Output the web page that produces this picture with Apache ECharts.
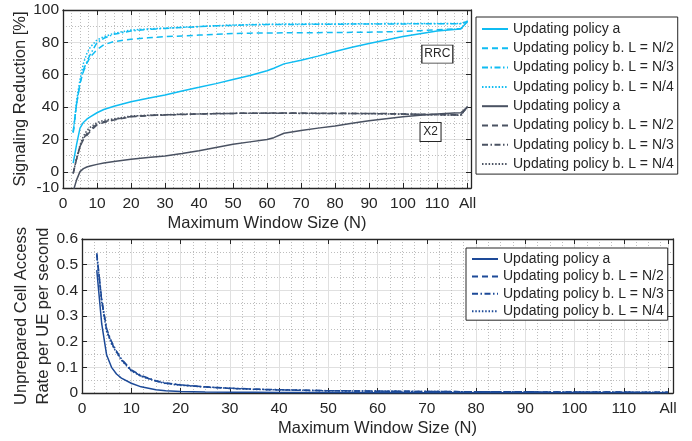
<!DOCTYPE html>
<html lang="en">
<head>
<meta charset="UTF-8">
<title>Signaling reduction / unprepared cell access</title>
<script src="https://cdn.jsdelivr.net/npm/echarts@6/dist/echarts.min.js"></script>
<style>
  html, body { margin: 0; padding: 0; background: #fff; }
  #chart { width: 692px; height: 441px; }
</style>
</head>
<body>
<div id="chart"></div>
<script>
// window sizes N, 119 is the "All" position
const topN = [3,4,5,6,7,8,10,12,15,20,25,30,35,40,45,50,55,60,62,65,70,75,80,85,90,95,100,105,110,115,117,119];
const rrcA  = [5.4,17,27,30.5,32.5,34,36.5,38.5,40.5,43.3,45.5,47.5,50,52.2,54.5,57,59.5,62.5,64,66.7,69,71.5,74.3,77,79.3,81.5,83.6,85.3,87,88,88.3,93];
const rrcL2 = [24.4,42,54.7,62,67,71,75.5,78.5,80.5,81.9,82.8,83.5,84,84.5,85,85.5,85.7,85.8,85.8,85.9,86,86,86.1,86.2,86.3,86.5,86.8,87.2,87.8,88.3,88.5,93];
const rrcL3 = [24.4,42,54.7,63,68,72.5,79.8,82.5,85,87,88,88.6,89.2,89.7,90.2,90.5,90.8,91,91,91.1,91.1,91.2,91.2,91.3,91.3,91.4,91.4,91.5,91.5,91.5,91.5,93];
const rrcL4 = [24.4,44,57,67,73,77,81.5,83.5,85.6,87.6,88.3,88.8,89.3,89.8,90.3,90.7,91,91.2,91.2,91.3,91.3,91.4,91.4,91.5,91.5,91.6,91.6,91.6,91.7,91.7,91.7,93];
const x2A  = [-12,-5,0.1,2,3,3.6,4.6,5.4,6.4,7.7,8.8,9.8,11.3,13,15,17,18.5,20,21.1,23.8,25.5,27,28.3,30,31.5,32.8,34,35,35.8,36.4,36.5,40.2];
const x2L2 = [-1,8,15.5,20,22.5,25,29,30.5,32,34,34.7,35.1,35.4,35.7,35.9,36.1,36.2,36.3,36.3,36.3,36.3,36.2,36.2,36.1,36,36,35.8,35.6,35.4,35.2,35.2,40.2];
const x2L3 = [-1,8,15.5,20.5,23.5,26,29.5,31,32.3,34.2,34.8,35.2,35.5,35.8,36,36.1,36.2,36.2,36.2,36.2,36.2,36.1,36.1,36,36,35.9,35.7,35.5,35.3,35.1,35.1,40.2];
const x2L4 = [-1,8.5,16.5,22,25.5,27.5,30.5,31.8,32.8,34.5,35,35.3,35.6,35.8,36,36.1,36.2,36.2,36.2,36.2,36.1,36.1,36,36,35.9,35.8,35.6,35.4,35.2,35,35,40.2];

const bottomN = [3,4,5,6,7,8,10,12,15,17,20,25,30,35,40,50,60,70,80,90,100,110,119];
const ucaA  = [0.479,0.27,0.148,0.1,0.074,0.058,0.038,0.024,0.013,0.009,0.006,0.004,0.003,0.0025,0.002,0.0015,0.0012,0.001,0.0009,0.0008,0.0007,0.0006,0.0005];
const ucaL2 = [0.54,0.36,0.245,0.195,0.161,0.13,0.088,0.066,0.047,0.038,0.031,0.024,0.018,0.015,0.012,0.009,0.007,0.006,0.005,0.0045,0.004,0.0035,0.003];
const ucaL3 = [0.545,0.365,0.25,0.2,0.163,0.133,0.09,0.068,0.048,0.039,0.032,0.024,0.019,0.015,0.013,0.009,0.0075,0.006,0.005,0.0045,0.004,0.0035,0.003];
const ucaL4 = [0.535,0.355,0.24,0.19,0.158,0.128,0.086,0.065,0.046,0.037,0.03,0.023,0.018,0.014,0.012,0.0085,0.007,0.0055,0.005,0.0042,0.0038,0.0033,0.003];

// tick labels
const xTicks = [0,10,20,30,40,50,60,70,80,90,100,110,119];
const xTickLabels = ['0','10','20','30','40','50','60','70','80','90','100','110','All'];
const topYTicks = [-10,0,20,40,60,80,100];
const bottomYTicks = [0,0.1,0.2,0.3,0.4,0.5,0.6];

// labelled boxes inside the top plot
const annotations = [
  { text: 'RRC', n: 110.1, value: 72.8 },
  { text: 'X2', n: 108.1, value: 24.6 }
];

const legendLabels = {
  'rrcA': 'Updating policy a', 'rrcL2': 'Updating policy b. L = N/2',
  'rrcL3': 'Updating policy b. L = N/3', 'rrcL4': 'Updating policy b. L = N/4',
  'x2A': 'Updating policy a', 'x2L2': 'Updating policy b. L = N/2',
  'x2L3': 'Updating policy b. L = N/3', 'x2L4': 'Updating policy b. L = N/4',
  'ucaA': 'Updating policy a', 'ucaL2': 'Updating policy b. L = N/2',
  'ucaL3': 'Updating policy b. L = N/3', 'ucaL4': 'Updating policy b. L = N/4'
};

const ink = '#262626';
const font = '"Liberation Sans", Arial, Helvetica, sans-serif';
const dashes = { solid: 'solid', dash: [6, 4], dashDot: [6, 2.5, 1.5, 2.5], dot: [1.5, 1.8] };
const majorGrid = { show: true, lineStyle: { color: '#e0e0e0', width: 1 } };

// minor grid positions (every 2.5 on x)
const xMinor = [];
for (let v = 2.5; v < 120; v += 2.5) if (v % 10 !== 0) xMinor.push(v);

function xAxes(gridIndex, name) {
  const base = { type: 'value', gridIndex: gridIndex, min: 0, max: 120 };
  return [
    Object.assign({}, base, {
      position: 'bottom',
      axisLine: { onZero: false, lineStyle: { color: ink, width: 1.3 } },
      axisTick: { inside: true, length: 5, customValues: xTicks, lineStyle: { color: ink } },
      axisLabel: { customValues: xTicks, color: ink, fontSize: 15.5, margin: 8, fontFamily: font,
        formatter: v => xTickLabels[xTicks.indexOf(v)] },
      splitLine: Object.assign({ customValues: xTicks }, majorGrid),
      name: name, nameLocation: 'middle', nameGap: 27, nameMoveOverlap: false,
      nameTextStyle: { color: ink, fontSize: 16.5, fontFamily: font }
    }),
    Object.assign({}, base, {
      position: 'top',
      axisLine: { onZero: false, lineStyle: { color: ink, width: 1.3 } },
      axisTick: { inside: true, length: 5, customValues: xTicks, lineStyle: { color: ink } },
      axisLabel: { show: false },
      splitLine: { show: false }
    }),
    Object.assign({}, base, {
      position: 'bottom', interval: 2.5,
      axisLine: { show: false, onZero: false },
      axisTick: { show: false, customValues: xMinor },
      axisLabel: { show: false },
      splitLine: { show: true, customValues: xMinor, lineStyle: { color: '#bdbdbd', type: [1, 2], width: 1 } }
    })
  ];
}

function yAxes(gridIndex, min, max, ticks, minor, name, nameGap, lineHeight) {
  const base = { type: 'value', gridIndex: gridIndex, min: min, max: max };
  return [
    Object.assign({}, base, {
      position: 'left',
      axisLine: { onZero: false, lineStyle: { color: ink, width: 1.3 } },
      axisTick: { inside: true, length: 5, customValues: ticks, lineStyle: { color: ink } },
      axisLabel: { customValues: ticks, color: ink, fontSize: 15.5, margin: 4, fontFamily: font },
      splitLine: Object.assign({ customValues: ticks }, majorGrid),
      name: name, nameLocation: 'middle', nameGap: nameGap, nameMoveOverlap: false,
      nameTextStyle: { color: ink, fontSize: 16.5, fontFamily: font, lineHeight: lineHeight }
    }),
    Object.assign({}, base, {
      position: 'right',
      axisLine: { onZero: false, lineStyle: { color: ink, width: 1.3 } },
      axisTick: { inside: true, length: 5, customValues: ticks, lineStyle: { color: ink } },
      axisLabel: { show: false },
      splitLine: { show: false }
    }),
    Object.assign({}, base, {
      position: 'left',
      axisLine: { show: false, onZero: false },
      axisTick: { show: false, customValues: minor },
      axisLabel: { show: false },
      splitLine: { show: true, customValues: minor, lineStyle: { color: '#bdbdbd', type: [1, 2], width: 1 } }
    })
  ];
}

function lineSeries(id, xs, ys, color, dash, xi, yi) {
  return {
    name: id, type: 'line', xAxisIndex: xi, yAxisIndex: yi,
    data: xs.map((n, i) => [n, ys[i]]),
    symbol: 'none', color: color,
    lineStyle: { color: color, width: 1.5, type: dash },
    z: 3
  };
}

const cyan = '#0fbcf2';
const slate = '#4a5262';
const navy = '#1d4a98';

const series = [
  lineSeries('rrcA', topN, rrcA, cyan, dashes.solid, 0, 0),
  lineSeries('rrcL2', topN, rrcL2, cyan, dashes.dash, 0, 0),
  lineSeries('rrcL3', topN, rrcL3, cyan, dashes.dashDot, 0, 0),
  lineSeries('rrcL4', topN, rrcL4, cyan, dashes.dot, 0, 0),
  lineSeries('x2A', topN, x2A, slate, dashes.solid, 0, 0),
  lineSeries('x2L2', topN, x2L2, slate, dashes.dash, 0, 0),
  lineSeries('x2L3', topN, x2L3, slate, dashes.dashDot, 0, 0),
  lineSeries('x2L4', topN, x2L4, slate, dashes.dot, 0, 0),
  lineSeries('ucaA', bottomN, ucaA, navy, dashes.solid, 3, 3),
  lineSeries('ucaL2', bottomN, ucaL2, navy, dashes.dash, 3, 3),
  lineSeries('ucaL3', bottomN, ucaL3, navy, dashes.dashDot, 3, 3),
  lineSeries('ucaL4', bottomN, ucaL4, navy, dashes.dot, 3, 3)
];

// RRC / X2 boxes
series[0].markPoint = {
  silent: true,
  symbol: 'rect',
  itemStyle: { color: '#fff', borderColor: ink, borderWidth: 1 },
  label: { show: true, position: 'inside', color: ink, fontSize: 12, fontFamily: font, formatter: p => p.name },
  data: annotations.map(a => ({ name: a.text, coord: [a.n, a.value], symbolSize: a.text === 'RRC' ? [31, 18] : [21, 19] }))
};

const legendBase = {
  orient: 'vertical',
  backgroundColor: '#fff',
  borderColor: ink,
  borderWidth: 1,
  itemWidth: 26,
  itemHeight: 14,
  // hide the round marker, keep only the line sample
  itemStyle: { opacity: 0, color: 'rgba(0,0,0,0)', borderWidth: 0 },
  textStyle: { color: ink, fontSize: 14, fontFamily: font },
  formatter: name => legendLabels[name],
  selectedMode: false
};

const chart = echarts.init(document.getElementById('chart'));
chart.setOption({
  animation: false,
  backgroundColor: '#fff',
  textStyle: { fontFamily: font },
  grid: [
    { left: 63, top: 10, width: 408, height: 178, outerBoundsMode: 'none' },
    { left: 82, top: 239, width: 591, height: 154, outerBoundsMode: 'none' }
  ],
  xAxis: xAxes(0, 'Maximum Window Size (N)').concat(xAxes(1, 'Maximum Window Size (N)')),
  yAxis: yAxes(0, -10, 100, topYTicks, [-5, 10, 30, 50, 70, 90], 'Signaling Reduction [%]', 33, 20)
    .concat(yAxes(1, 0, 0.6, bottomYTicks, [0.05, 0.15, 0.25, 0.35, 0.45, 0.55],
      'Unprepared Cell Access\nRate per UE per second', 28, 21.5)),
  legend: [
    Object.assign({}, legendBase, {
      left: 476, top: 17, itemGap: 5.3, padding: [5, 4, 3, 5],
      data: ['rrcA', 'rrcL2', 'rrcL3', 'rrcL4', 'x2A', 'x2L2', 'x2L3', 'x2L4']
    }),
    Object.assign({}, legendBase, {
      left: 466, top: 248, itemGap: 3.4, padding: [4, 4, 2, 5],
      data: ['ucaA', 'ucaL2', 'ucaL3', 'ucaL4']
    })
  ],
  series: series
});
</script>
</body>
</html>
